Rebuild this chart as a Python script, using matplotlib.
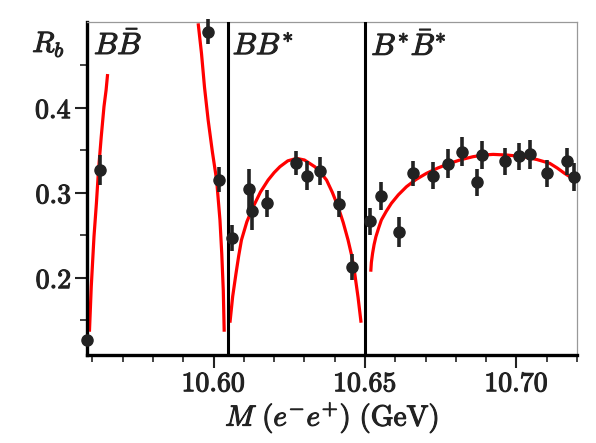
import matplotlib
matplotlib.use("Agg")
import matplotlib.pyplot as plt
import matplotlib.patheffects as pe
from matplotlib.ticker import FixedLocator, MultipleLocator

plt.rcParams['mathtext.fontset'] = 'cm'
plt.rcParams['font.family'] = ['DejaVu Serif']

# ---- data ----
mass = [10.5582, 10.5626, 10.5982, 10.6017, 10.6061, 10.6118, 10.6127, 10.6178,
        10.6273, 10.6308, 10.6353, 10.6414, 10.6458, 10.6518, 10.6552, 10.6612,
        10.6659, 10.6724, 10.6774, 10.6819, 10.6869, 10.6885, 10.6963, 10.7009,
        10.7045, 10.7100, 10.7166, 10.7190]
rb = [0.127, 0.3267, 0.4896, 0.3153, 0.2466, 0.304, 0.2784, 0.2875,
      0.3346, 0.320, 0.3255, 0.2866, 0.2125, 0.2666, 0.2961, 0.2537,
      0.3228, 0.320, 0.3341, 0.3482, 0.3122, 0.3444, 0.337, 0.3428,
      0.3452, 0.3228, 0.3369, 0.3185]
rb_err = [0.004, 0.0176, 0.0145, 0.0145, 0.0157, 0.0235, 0.0227, 0.0157,
          0.014, 0.017, 0.0167, 0.0157, 0.015, 0.016, 0.016, 0.0176,
          0.015, 0.0157, 0.017, 0.017, 0.0157, 0.017, 0.016, 0.0157,
          0.017, 0.0157, 0.016, 0.016]

# fitted curves
fit1_m = [10.5590, 10.5596, 10.5605, 10.5613, 10.5620, 10.5629, 10.5638, 10.5645, 10.5650]
fit1_r = [0.1365, 0.1894, 0.2483, 0.2875, 0.3267, 0.3659, 0.4012, 0.4208, 0.4396]
fit2_m = [10.5949, 10.5960, 10.5970, 10.5982, 10.5996, 10.6010, 10.6021, 10.6027, 10.6032, 10.6035]
fit2_r = [0.4993, 0.4640, 0.4240, 0.3855, 0.3480, 0.3149, 0.2679, 0.2280, 0.1850, 0.1365]
fit3_m = [10.6054, 10.6063, 10.6074, 10.6083, 10.6092, 10.6110, 10.6131, 10.6155,
          10.6180, 10.6200, 10.6219, 10.6245, 10.6274, 10.6300, 10.6334, 10.6354,
          10.6373, 10.6392, 10.6411, 10.6428, 10.6444, 10.6456, 10.6466, 10.6477, 10.6487]
fit3_r = [0.1471, 0.1780, 0.2051, 0.2260, 0.2444, 0.2660, 0.2836, 0.3010,
          0.3149, 0.3237, 0.3306, 0.3375, 0.3404, 0.3385, 0.3306, 0.3235,
          0.3149, 0.3005, 0.2836, 0.2650, 0.2444, 0.2260, 0.2051, 0.1770, 0.1471]
fit4_m = [10.6519, 10.6521, 10.6525, 10.6530, 10.6536, 10.6545, 10.6554, 10.6570,
          10.6587, 10.6610, 10.6637, 10.6668, 10.6703, 10.6740, 10.6780, 10.6818,
          10.6857, 10.6890, 10.6923, 10.6970, 10.7022, 10.7068, 10.7110, 10.7135,
          10.7159, 10.7180, 10.7200]
fit4_r = [0.2071, 0.2180, 0.2287, 0.2390, 0.2483, 0.2585, 0.2679, 0.2780,
          0.2875, 0.2975, 0.3071, 0.3155, 0.3228, 0.3290, 0.3346, 0.3390,
          0.3424, 0.3443, 0.3451, 0.3443, 0.3424, 0.3390, 0.3346, 0.3290,
          0.3228, 0.3180, 0.3130]

thresholds = [10.6046, 10.650]
channel_labels = [r'$B\bar{B}$', r'$BB^{*}$', r'$B^{*}\bar{B}^{*}$']
channel_x = [10.5605, 10.6063, 10.6521]
channel_y = [0.463, 0.463, 0.462]
xticks_major = [10.60, 10.65, 10.70]
xtick_labels = [r'$10.60$', r'$10.65$', r'$10.70$']
yticks_major = [0.2, 0.3, 0.4]
ytick_labels = [r'$0.2$', r'$0.3$', r'$0.4$']

TXT = '#222222'
bold_fx = [pe.withStroke(linewidth=0.8, foreground=TXT)]

fig = plt.figure(figsize=(5.96, 4.43), dpi=100)
ax = fig.add_axes([0.146, 0.1986, 0.8221, 0.7517])
ax.set_xlim(10.5582, 10.7200)
ax.set_ylim(0.1091, 0.5008)

for m, r in [(fit1_m, fit1_r), (fit2_m, fit2_r), (fit3_m, fit3_r), (fit4_m, fit4_r)]:
    ax.plot(m, r, color='#ff0000', lw=2.3, solid_capstyle='butt',
            solid_joinstyle='round', zorder=2)

for t in thresholds:
    ax.axvline(t, color='black', lw=2.2, zorder=3)

ax.errorbar(mass, rb, yerr=rb_err, fmt='o', color=TXT, ms=8,
            elinewidth=2.6, capsize=0, zorder=4, clip_on=False)

for lab, x, y in zip(channel_labels, channel_x, channel_y):
    ax.text(x, y, lab, fontsize=22, color=TXT, ha='left', va='baseline',
            path_effects=bold_fx)

ax.xaxis.set_major_locator(FixedLocator(xticks_major))
ax.set_xticklabels(xtick_labels)
ax.xaxis.set_minor_locator(MultipleLocator(0.01))
ax.yaxis.set_major_locator(FixedLocator(yticks_major))
ax.set_yticklabels(ytick_labels)
ax.yaxis.set_minor_locator(FixedLocator([0.15, 0.25, 0.35, 0.45]))

ax.tick_params(axis='both', which='major', direction='out', length=9, width=1.5,
               labelsize=20, colors=TXT, pad=2)
ax.tick_params(axis='both', which='minor', direction='out', length=5, width=1.2,
               colors=TXT)
for lbl in ax.get_xticklabels() + ax.get_yticklabels():
    lbl.set_path_effects(bold_fx)

for s in ['left', 'bottom']:
    ax.spines[s].set_linewidth(2.4)
    ax.spines[s].set_color('black')
for s in ['top', 'right']:
    ax.spines[s].set_linewidth(0.9)
    ax.spines[s].set_color('#999999')

ax.set_xlabel(r'$M\ (e^{-}e^{+})\ (\mathrm{GeV})$', fontsize=21, color=TXT,
              labelpad=2, path_effects=bold_fx)
fig.text(0.054, 0.8826, r'$R_b$', fontsize=21, color=TXT, ha='left', va='baseline',
         path_effects=bold_fx)

fig.savefig('out.png', dpi=100)
